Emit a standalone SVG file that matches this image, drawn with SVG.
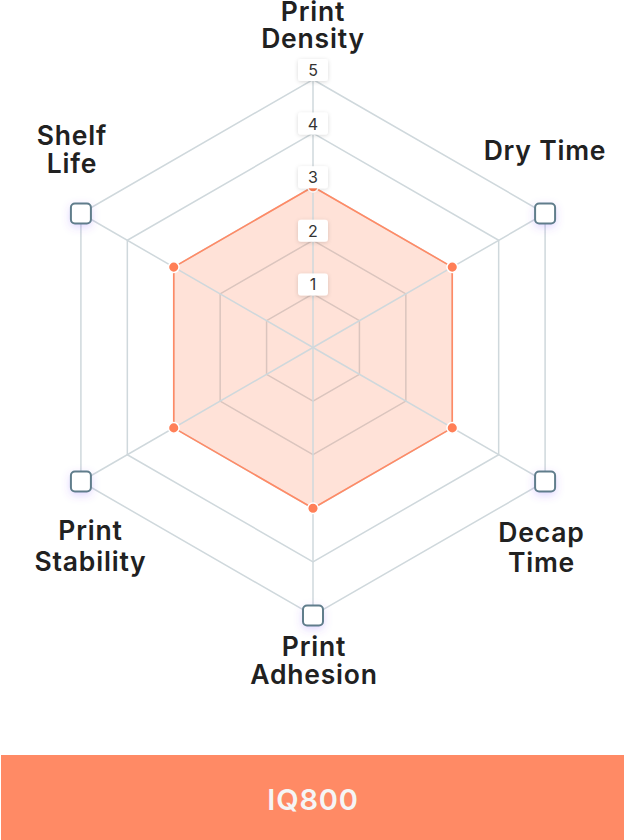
<svg xmlns="http://www.w3.org/2000/svg" width="625" height="840" viewBox="0 0 625 840">
  <defs>
    <filter id="glow" x="-100%" y="-100%" width="300%" height="300%">
      <feDropShadow dx="0" dy="3" stdDeviation="4" flood-color="#7c4dff" flood-opacity="0.22"/>
    </filter>
    <filter id="boxshadow" x="-50%" y="-50%" width="200%" height="200%">
      <feDropShadow dx="0" dy="1" stdDeviation="2" flood-color="#000" flood-opacity="0.15"/>
    </filter>
  </defs>
  <style>
    .ring { fill: none; stroke: #cfd8dc; stroke-width: 1.5; }
    .spoke { stroke: #cfd8dc; stroke-width: 1.5; }
    .area { fill: #ff8a65; fill-opacity: 0.25; stroke: #ff8a65; stroke-width: 1.6; stroke-linejoin: round; }
    .pt { fill: #ff7f57; stroke: #ffffff; stroke-width: 1.5; }
    .marker { fill: #ffffff; stroke: #607d8b; stroke-width: 2; filter: url(#glow); }
    .tickbox { fill: #ffffff; filter: url(#boxshadow); }
    .tick { font-family: Inter, "Noto Sans", sans-serif; font-size: 16px; font-weight: 400; fill: #333333; text-anchor: middle; }
    .label { font-family: Inter, "Noto Sans", sans-serif; font-size: 26.5px; font-weight: 600; fill: #212121; text-anchor: middle; letter-spacing: 0.8px; }
    .title { font-family: Inter, "Noto Sans", sans-serif; font-size: 29px; font-weight: 600; fill: #f5f5f5; text-anchor: middle; letter-spacing: 0.8px; }
  </style>
  <rect width="625" height="840" fill="#ffffff"/>

  <g id="grid">
    <polygon class="ring" points="313,293.9 359.42,320.7 359.42,374.3 313,401.1 266.58,374.3 266.58,320.7"/>
    <polygon class="ring" points="313,240.3 405.84,293.9 405.84,401.1 313,454.7 220.16,401.1 220.16,293.9"/>
    <polygon class="ring" points="313,186.7 452.26,267.1 452.26,427.9 313,508.3 173.74,427.9 173.74,267.1"/>
    <polygon class="ring" points="313,133.1 498.67,240.3 498.67,454.7 313,561.9 127.33,454.7 127.33,240.3"/>
    <polygon class="ring" points="313,79.5 545.09,213.5 545.09,481.5 313,615.5 80.91,481.5 80.91,213.5"/>
  </g>

  <g id="series-IQ800">
    <polygon class="area" points="313,186.7 452.26,267.1 452.26,427.9 313,508.3 173.74,427.9 173.74,267.1"/>
  </g>

  <g id="connectors">
    <line class="spoke" x1="313" y1="347.5" x2="313" y2="79.5"/>
    <line class="spoke" x1="313" y1="347.5" x2="545.09" y2="213.5"/>
    <line class="spoke" x1="313" y1="347.5" x2="545.09" y2="481.5"/>
    <line class="spoke" x1="313" y1="347.5" x2="313" y2="615.5"/>
    <line class="spoke" x1="313" y1="347.5" x2="80.91" y2="481.5"/>
    <line class="spoke" x1="313" y1="347.5" x2="80.91" y2="213.5"/>
  </g>

  <g id="points">
    <circle class="pt" cx="313" cy="186.7" r="5.3"/>
    <circle class="pt" cx="452.26" cy="267.1" r="5.3"/>
    <circle class="pt" cx="452.26" cy="427.9" r="5.3"/>
    <circle class="pt" cx="313" cy="508.3" r="5.3"/>
    <circle class="pt" cx="173.74" cy="427.9" r="5.3"/>
    <circle class="pt" cx="173.74" cy="267.1" r="5.3"/>
  </g>

  <g id="markers">
    <rect class="marker" x="535.09" y="203.5" width="20" height="20" rx="4"/>
    <rect class="marker" x="535.09" y="471.5" width="20" height="20" rx="4"/>
    <rect class="marker" x="303" y="605.5" width="20" height="20" rx="4"/>
    <rect class="marker" x="70.91" y="471.5" width="20" height="20" rx="4"/>
    <rect class="marker" x="70.91" y="203.5" width="20" height="20" rx="4"/>
  </g>

  <g id="ticks">
    <rect class="tickbox" x="298" y="273.4" width="30" height="22" rx="3"/>
    <text class="tick" x="313" y="290.4">1</text>
    <rect class="tickbox" x="298" y="219.8" width="30" height="22" rx="3"/>
    <text class="tick" x="313" y="236.8">2</text>
    <rect class="tickbox" x="298" y="166.2" width="30" height="22" rx="3"/>
    <text class="tick" x="313" y="183.2">3</text>
    <rect class="tickbox" x="298" y="112.6" width="30" height="22" rx="3"/>
    <text class="tick" x="313" y="129.6">4</text>
    <rect class="tickbox" x="298" y="59" width="30" height="22" rx="3"/>
    <text class="tick" x="313" y="76">5</text>
  </g>

  <g id="label-print-density">
    <text class="label" x="313" y="21">Print</text>
    <text class="label" x="313" y="48">Density</text>
  </g>
  <g id="label-dry-time">
    <text class="label" x="545" y="160">Dry Time</text>
  </g>
  <g id="label-decap-time">
    <text class="label" x="541.5" y="542">Decap</text>
    <text class="label" x="541.5" y="572">Time</text>
  </g>
  <g id="label-print-adhesion">
    <text class="label" x="314" y="656">Print</text>
    <text class="label" x="314" y="684">Adhesion</text>
  </g>
  <g id="label-print-stability">
    <text class="label" x="90.5" y="540">Print</text>
    <text class="label" x="90.5" y="571">Stability</text>
  </g>
  <g id="label-shelf-life">
    <text class="label" x="72" y="145">Shelf</text>
    <text class="label" x="72" y="173">Life</text>
  </g>

  <g id="legend">
    <rect x="1" y="755" width="623" height="85" fill="#ff8a65"/>
    <text class="title" x="313" y="810">IQ800</text>
  </g>
</svg>
